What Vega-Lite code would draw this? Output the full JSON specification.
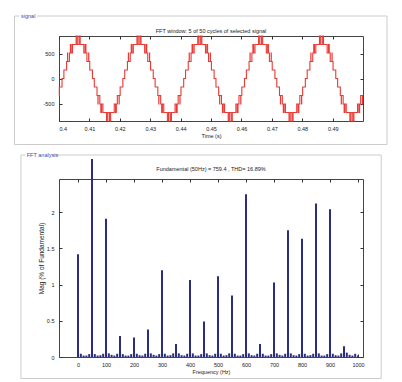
{
"$schema": "https://vega.github.io/schema/vega-lite/v6.json",
"autosize": {"type": "pad"},
"padding": {"left": 13, "top": 11, "right": 0, "bottom": 0},
"background": "white",
"bounds": "flush",
"spacing": 58,
"config": {
  "view": {"stroke": "#444444", "strokeWidth": 1},
  "font": "Liberation Sans",
  "title": {"font": "Liberation Sans", "fontSize": 5.5, "fontWeight": "normal", "color": "#222222", "anchor": "middle"},
  "axis": {"domain": false, "grid": false, "tickSize": -3, "tickColor": "#333333", "labelFont": "Liberation Sans", "labelFontSize": 5.5, "labelColor": "#222222", "labelPadding": 8, "titleFont": "Liberation Sans", "titleFontSize": 5.5, "titleFontWeight": "normal", "titleColor": "#222222", "titlePadding": 2}
},
"datasets": {
"sig": [
{"t":0.4,"v":-340},{"t":0.400106,"v":-170},{"t":0.400994,"v":0},
{"t":0.401606,"v":170},{"t":0.402494,"v":340},{"t":0.4028,"v":510},{"t":0.402844,"v":340},{"t":0.403422,"v":510},{"t":0.40375,"v":680},{"t":0.403994,"v":510},{"t":0.404439,"v":680},{"t":0.405633,"v":850},{"t":0.406022,"v":680},{"t":0.406578,"v":850},{"t":0.406967,"v":680},{"t":0.408161,"v":510},{"t":0.408606,"v":680},{"t":0.40885,"v":510},{"t":0.409178,"v":340},{"t":0.409756,"v":510},{"t":0.4098,"v":340},{"t":0.410106,"v":170},{"t":0.410994,"v":0},
{"t":0.411606,"v":-170},{"t":0.412494,"v":-340},{"t":0.4128,"v":-510},{"t":0.412844,"v":-340},{"t":0.413422,"v":-510},{"t":0.41375,"v":-680},{"t":0.413994,"v":-510},{"t":0.414439,"v":-680},{"t":0.415633,"v":-850},{"t":0.416022,"v":-680},{"t":0.416578,"v":-850},{"t":0.416967,"v":-680},{"t":0.418161,"v":-510},{"t":0.418606,"v":-680},{"t":0.41885,"v":-510},{"t":0.419178,"v":-340},{"t":0.419756,"v":-510},{"t":0.4198,"v":-340},{"t":0.420106,"v":-170},{"t":0.420994,"v":0},
{"t":0.421606,"v":170},{"t":0.422494,"v":340},{"t":0.4228,"v":510},{"t":0.422844,"v":340},{"t":0.423422,"v":510},{"t":0.42375,"v":680},{"t":0.423994,"v":510},{"t":0.424439,"v":680},{"t":0.425633,"v":850},{"t":0.426022,"v":680},{"t":0.426578,"v":850},{"t":0.426967,"v":680},{"t":0.428161,"v":510},{"t":0.428606,"v":680},{"t":0.42885,"v":510},{"t":0.429178,"v":340},{"t":0.429756,"v":510},{"t":0.4298,"v":340},{"t":0.430106,"v":170},{"t":0.430994,"v":0},
{"t":0.431606,"v":-170},{"t":0.432494,"v":-340},{"t":0.4328,"v":-510},{"t":0.432844,"v":-340},{"t":0.433422,"v":-510},{"t":0.43375,"v":-680},{"t":0.433994,"v":-510},{"t":0.434439,"v":-680},{"t":0.435633,"v":-850},{"t":0.436022,"v":-680},{"t":0.436578,"v":-850},{"t":0.436967,"v":-680},{"t":0.438161,"v":-510},{"t":0.438606,"v":-680},{"t":0.43885,"v":-510},{"t":0.439178,"v":-340},{"t":0.439756,"v":-510},{"t":0.4398,"v":-340},{"t":0.440106,"v":-170},{"t":0.440994,"v":0},
{"t":0.441606,"v":170},{"t":0.442494,"v":340},{"t":0.4428,"v":510},{"t":0.442844,"v":340},{"t":0.443422,"v":510},{"t":0.44375,"v":680},{"t":0.443994,"v":510},{"t":0.444439,"v":680},{"t":0.445633,"v":850},{"t":0.446022,"v":680},{"t":0.446578,"v":850},{"t":0.446967,"v":680},{"t":0.448161,"v":510},{"t":0.448606,"v":680},{"t":0.44885,"v":510},{"t":0.449178,"v":340},{"t":0.449756,"v":510},{"t":0.4498,"v":340},{"t":0.450106,"v":170},{"t":0.450994,"v":0},
{"t":0.451606,"v":-170},{"t":0.452494,"v":-340},{"t":0.4528,"v":-510},{"t":0.452844,"v":-340},{"t":0.453422,"v":-510},{"t":0.45375,"v":-680},{"t":0.453994,"v":-510},{"t":0.454439,"v":-680},{"t":0.455633,"v":-850},{"t":0.456022,"v":-680},{"t":0.456578,"v":-850},{"t":0.456967,"v":-680},{"t":0.458161,"v":-510},{"t":0.458606,"v":-680},{"t":0.45885,"v":-510},{"t":0.459178,"v":-340},{"t":0.459756,"v":-510},{"t":0.4598,"v":-340},{"t":0.460106,"v":-170},{"t":0.460994,"v":0},
{"t":0.461606,"v":170},{"t":0.462494,"v":340},{"t":0.4628,"v":510},{"t":0.462844,"v":340},{"t":0.463422,"v":510},{"t":0.46375,"v":680},{"t":0.463994,"v":510},{"t":0.464439,"v":680},{"t":0.465633,"v":850},{"t":0.466022,"v":680},{"t":0.466578,"v":850},{"t":0.466967,"v":680},{"t":0.468161,"v":510},{"t":0.468606,"v":680},{"t":0.46885,"v":510},{"t":0.469178,"v":340},{"t":0.469756,"v":510},{"t":0.4698,"v":340},{"t":0.470106,"v":170},{"t":0.470994,"v":0},
{"t":0.471606,"v":-170},{"t":0.472494,"v":-340},{"t":0.4728,"v":-510},{"t":0.472844,"v":-340},{"t":0.473422,"v":-510},{"t":0.47375,"v":-680},{"t":0.473994,"v":-510},{"t":0.474439,"v":-680},{"t":0.475633,"v":-850},{"t":0.476022,"v":-680},{"t":0.476578,"v":-850},{"t":0.476967,"v":-680},{"t":0.478161,"v":-510},{"t":0.478606,"v":-680},{"t":0.47885,"v":-510},{"t":0.479178,"v":-340},{"t":0.479756,"v":-510},{"t":0.4798,"v":-340},{"t":0.480106,"v":-170},{"t":0.480994,"v":0},
{"t":0.481606,"v":170},{"t":0.482494,"v":340},{"t":0.4828,"v":510},{"t":0.482844,"v":340},{"t":0.483422,"v":510},{"t":0.48375,"v":680},{"t":0.483994,"v":510},{"t":0.484439,"v":680},{"t":0.485633,"v":850},{"t":0.486022,"v":680},{"t":0.486578,"v":850},{"t":0.486967,"v":680},{"t":0.488161,"v":510},{"t":0.488606,"v":680},{"t":0.48885,"v":510},{"t":0.489178,"v":340},{"t":0.489756,"v":510},{"t":0.4898,"v":340},{"t":0.490106,"v":170},{"t":0.490994,"v":0},
{"t":0.491606,"v":-170},{"t":0.492494,"v":-340},{"t":0.4928,"v":-510},{"t":0.492844,"v":-340},{"t":0.493422,"v":-510},{"t":0.49375,"v":-680},{"t":0.493994,"v":-510},{"t":0.494439,"v":-680},{"t":0.495633,"v":-850},{"t":0.496022,"v":-680},{"t":0.496578,"v":-850},{"t":0.496967,"v":-680},{"t":0.498161,"v":-510},{"t":0.498606,"v":-680},{"t":0.49885,"v":-510},{"t":0.499178,"v":-340},{"t":0.499756,"v":-510},{"t":0.4998,"v":-340},{"t":0.49995,"v":-340}
],
"fft": [
{"f":0,"m":1.42},{"f":10,"m":0.045},{"f":20,"m":0.02},{"f":30,"m":0.02},{"f":40,"m":0.04},
{"f":50,"m":100},{"f":60,"m":0.04},{"f":70,"m":0.02},{"f":80,"m":0.025},{"f":90,"m":0.045},
{"f":100,"m":1.91},{"f":110,"m":0.05},{"f":120,"m":0.03},{"f":130,"m":0.02},{"f":140,"m":0.045},
{"f":150,"m":0.29},{"f":160,"m":0.04},{"f":170,"m":0.02},{"f":180,"m":0.02},{"f":190,"m":0.04},
{"f":200,"m":0.27},{"f":210,"m":0.045},{"f":220,"m":0.025},{"f":230,"m":0.02},{"f":240,"m":0.045},
{"f":250,"m":0.38},{"f":260,"m":0.05},{"f":270,"m":0.03},{"f":280,"m":0.02},{"f":290,"m":0.04},
{"f":300,"m":1.2},{"f":310,"m":0.045},{"f":320,"m":0.02},{"f":330,"m":0.025},{"f":340,"m":0.05},
{"f":350,"m":0.18},{"f":360,"m":0.05},{"f":370,"m":0.025},{"f":380,"m":0.02},{"f":390,"m":0.045},
{"f":400,"m":1.065},{"f":410,"m":0.05},{"f":420,"m":0.02},{"f":430,"m":0.02},{"f":440,"m":0.04},
{"f":450,"m":0.49},{"f":460,"m":0.05},{"f":470,"m":0.025},{"f":480,"m":0.02},{"f":490,"m":0.045},
{"f":500,"m":1.115},{"f":510,"m":0.045},{"f":520,"m":0.02},{"f":530,"m":0.025},{"f":540,"m":0.05},
{"f":550,"m":0.85},{"f":560,"m":0.045},{"f":570,"m":0.02},{"f":580,"m":0.02},{"f":590,"m":0.04},
{"f":600,"m":2.25},{"f":610,"m":0.05},{"f":620,"m":0.025},{"f":630,"m":0.02},{"f":640,"m":0.045},
{"f":650,"m":0.18},{"f":660,"m":0.045},{"f":670,"m":0.02},{"f":680,"m":0.02},{"f":690,"m":0.04},
{"f":700,"m":1.03},{"f":710,"m":0.05},{"f":720,"m":0.03},{"f":730,"m":0.02},{"f":740,"m":0.045},
{"f":750,"m":1.75},{"f":760,"m":0.05},{"f":770,"m":0.025},{"f":780,"m":0.02},{"f":790,"m":0.04},
{"f":800,"m":1.635},{"f":810,"m":0.045},{"f":820,"m":0.02},{"f":830,"m":0.025},{"f":840,"m":0.045},
{"f":850,"m":2.12},{"f":860,"m":0.05},{"f":870,"m":0.02},{"f":880,"m":0.02},{"f":890,"m":0.04},
{"f":900,"m":2.04},{"f":910,"m":0.045},{"f":920,"m":0.025},{"f":930,"m":0.02},{"f":940,"m":0.05},
{"f":950,"m":0.15},{"f":960,"m":0.06},{"f":970,"m":0.03},{"f":980,"m":0.02},{"f":990,"m":0.045},
{"f":1000,"m":0.02}
]
},
"vconcat": [
{
  "width": 304, "height": 85,
  "title": {"text": "FFT window: 5 of 50 cycles of selected signal", "offset": -22},
  "resolve": {"axis": {"x": "independent", "y": "independent"}},
  "layer": [
    {"data": {"values": [{}]}, "mark": {"type": "rect", "fillOpacity": 0, "stroke": "#cccccc", "strokeWidth": 1, "clip": false},
     "encoding": {
       "x": {"datum": 0.38537, "type": "quantitative", "axis": null, "scale": {"domain": [0.4, 0.49995], "nice": false, "zero": false}},
       "x2": {"datum": 0.50784},
       "y": {"datum": 1250, "type": "quantitative", "axis": null, "scale": {"domain": [-850, 850], "nice": false, "zero": false}},
       "y2": {"datum": -1320}}},
    {"data": {"values": [{}]}, "mark": {"type": "rect", "fill": "white", "clip": false},
     "encoding": {
       "x": {"datum": 0.38701, "type": "quantitative", "axis": null},
       "x2": {"datum": 0.39277},
       "y": {"datum": 1330, "type": "quantitative", "axis": null},
       "y2": {"datum": 1190}}},
    {"data": {"values": [{}]}, "mark": {"type": "text", "text": "signal", "align": "left", "baseline": "middle", "fontSize": 5.5, "color": "#3848b8", "clip": false},
     "encoding": {
       "x": {"datum": 0.38751, "type": "quantitative", "axis": null},
       "y": {"datum": 1250, "type": "quantitative", "axis": null}}},
    {"data": {"name": "sig"}, "mark": {"type": "line", "interpolate": "step-after", "color": "#e93a36", "strokeWidth": 1.1},
     "encoding": {
       "x": {"field": "t", "type": "quantitative", "scale": {"domain": [0.4, 0.49995], "nice": false, "zero": false},
             "axis": {"values": [0.4, 0.41, 0.42, 0.43, 0.44, 0.45, 0.46, 0.47, 0.48, 0.49], "format": ".2~f", "title": "Time (s)"}},
       "y": {"field": "v", "type": "quantitative", "scale": {"domain": [-850, 850], "nice": false, "zero": false},
             "axis": {"values": [-500, 0, 500], "labelExpr": "'' + datum.value", "title": null}}}},
    {"data": {"values": [{}]}, "mark": {"type": "point", "opacity": 0},
     "encoding": {
       "x": {"datum": 0.45, "type": "quantitative", "axis": {"orient": "top", "labels": false, "values": [0.4, 0.41, 0.42, 0.43, 0.44, 0.45, 0.46, 0.47, 0.48, 0.49], "title": null}},
       "y": {"datum": 0, "type": "quantitative", "axis": {"orient": "right", "labels": false, "values": [-500, 0, 500], "title": null}}}}
  ]
},
{
  "width": 304, "height": 178,
  "title": {"text": "Fundamental (50Hz) = 759.4 , THD= 16.89%", "offset": -21},
  "resolve": {"scale": {"y": "independent"}, "axis": {"x": "independent", "y": "independent"}},
  "layer": [
    {"data": {"values": [{}]}, "mark": {"type": "rect", "fillOpacity": 0, "stroke": "#cccccc", "strokeWidth": 1, "clip": false},
     "encoding": {
       "x": {"datum": -203.7, "type": "quantitative", "axis": null, "scale": {"domain": [-50, 1000], "nice": false, "zero": false}},
       "x2": {"datum": 1082.9},
       "y": {"datum": 2.7913, "type": "quantitative", "axis": null, "scale": {"domain": [0, 2.736], "range": [178, -20], "nice": false, "zero": false}},
       "y2": {"datum": -0.2971}}},
    {"data": {"values": [{}]}, "mark": {"type": "rect", "fill": "white", "clip": false},
     "encoding": {
       "x": {"datum": -188.2, "type": "quantitative", "axis": null},
       "x2": {"datum": -91.4},
       "y": {"datum": 2.8465, "type": "quantitative", "axis": null, "scale": {"domain": [0, 2.736], "range": [178, -20], "nice": false, "zero": false}},
       "y2": {"datum": 2.7498}}},
    {"data": {"values": [{}]}, "mark": {"type": "text", "text": "FFT analysis", "align": "left", "baseline": "middle", "fontSize": 5.5, "color": "#3848b8", "clip": false},
     "encoding": {
       "x": {"datum": -183, "type": "quantitative", "axis": null},
       "y": {"datum": 2.7913, "type": "quantitative", "axis": null, "scale": {"domain": [0, 2.736], "range": [178, -20], "nice": false, "zero": false}}}},
    {"data": {"name": "fft"}, "mark": {"type": "bar", "size": 2, "color": "#2b2e80", "clip": false},
     "encoding": {
       "x": {"field": "f", "type": "quantitative", "scale": {"domain": [-50, 1000], "nice": false, "zero": false},
             "axis": {"values": [0, 100, 200, 300, 400, 500, 600, 700, 800, 900, 1000], "labelExpr": "'' + datum.value", "title": "Frequency (Hz)"}},
       "y": {"field": "m", "type": "quantitative", "scale": {"domain": [0, 2.736], "range": [178, -20], "nice": false, "zero": false, "clamp": true},
             "axis": {"values": [0, 0.5, 1, 1.5, 2], "labelExpr": "'' + datum.value", "title": "Mag (% of Fundamental)", "titleFontSize": 6.5}}}},
    {"data": {"values": [{}]}, "mark": {"type": "point", "opacity": 0},
     "encoding": {
       "x": {"datum": 500, "type": "quantitative", "axis": {"orient": "top", "labels": false, "values": [0, 100, 200, 300, 400, 500, 600, 700, 800, 900, 1000], "title": null}},
       "y": {"datum": 1, "type": "quantitative", "scale": {"domain": [0, 2.736], "range": [178, -20], "nice": false, "zero": false, "clamp": true},
             "axis": {"orient": "right", "labels": false, "values": [0, 0.5, 1, 1.5, 2], "title": null}}}}
  ]
}
]
}
